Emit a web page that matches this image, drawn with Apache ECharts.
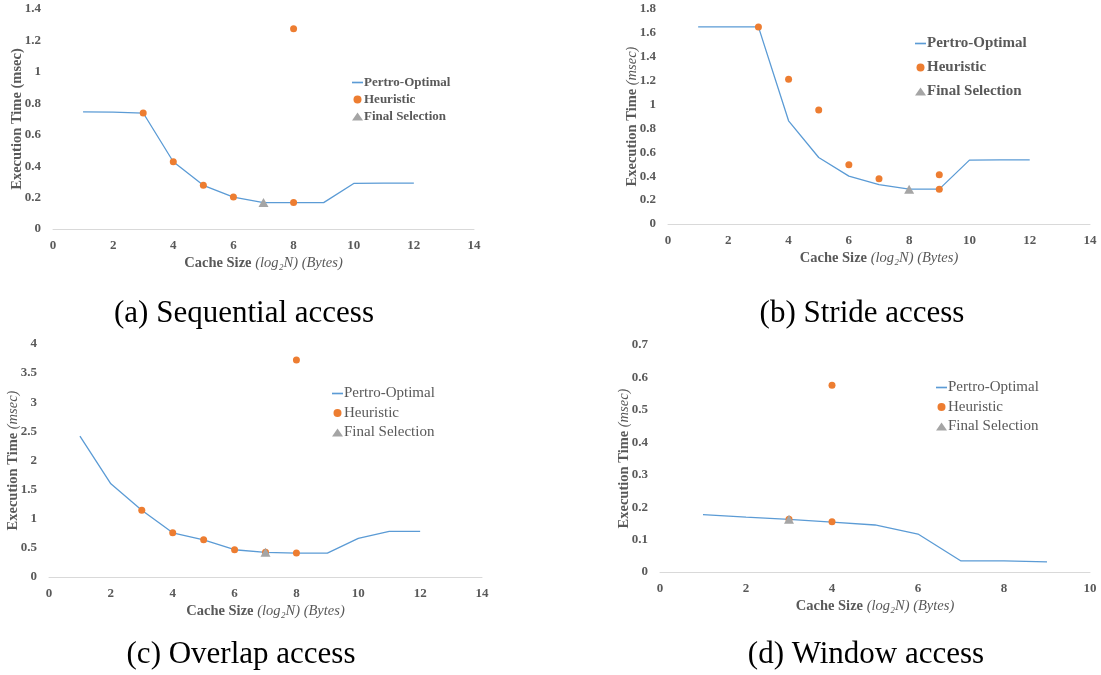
<!DOCTYPE html>
<html>
<head>
<meta charset="utf-8">
<script src="https://cdn.jsdelivr.net/npm/echarts@6/dist/echarts.min.js"></script>
<style>
  html, body { margin: 0; padding: 0; background: #fff; }
  #chart-container { width: 1101px; height: 675px; }
</style>
</head>
<body>
<div id="chart-container"></div>
<script>
// cache sizes (log2 N)
let sizes12 = [1, 2, 3, 4, 5, 6, 7, 8, 9, 10, 11, 12];
let sizes9 = [1, 2, 3, 4, 5, 6, 7, 8, 9];

// (a) sequential
let seqOptimal = [0.745, 0.744, 0.738, 0.428, 0.278, 0.203, 0.168, 0.168, 0.168, 0.29, 0.292, 0.292];
let seqHeurX = [3, 4, 5, 6, 8, 8];
let seqHeurY = [0.738, 0.428, 0.278, 0.203, 1.275, 0.168];
let seqFinalX = [7];
let seqFinalY = [0.168];

// (b) stride
let strOptimal = [1.65, 1.65, 1.65, 0.864, 0.557, 0.401, 0.329, 0.292, 0.292, 0.535, 0.537, 0.537];
let strHeurX = [3, 4, 5, 6, 7, 9, 9];
let strHeurY = [1.65, 1.212, 0.955, 0.496, 0.379, 0.412, 0.29];
let strFinalX = [8];
let strFinalY = [0.29];

// (c) overlap
let ovlOptimal = [2.42, 1.6, 1.147, 0.759, 0.639, 0.468, 0.422, 0.411, 0.411, 0.662, 0.782, 0.782];
let ovlHeurX = [3, 4, 5, 6, 7, 8, 8];
let ovlHeurY = [1.147, 0.759, 0.639, 0.468, 0.425, 3.726, 0.411];
let ovlFinalX = [7];
let ovlFinalY = [0.425];

// (d) window
let winOptimal = [0.177, 0.169, 0.162, 0.154, 0.145, 0.117, 0.034, 0.034, 0.031];
let winHeurX = [3, 4, 4];
let winHeurY = [0.163, 0.155, 0.576];
let winFinalX = [3];
let winFinalY = [0.163];

let captions = ["(a) Sequential access", "(b) Stride access", "(c) Overlap access", "(d) Window access"];

let serif = "Liberation Serif";
let textGray = "#595959";

function zip(xs, ys) {
    return xs.map(function (x, i) { return [x, ys[i]]; });
}

let panels = [
    { grid: { left: 53, top: 9, width: 421, height: 220 }, xMax: 14, yMax: 1.4, yStep: 0.2,
      xs: sizes12, opt: seqOptimal, hx: seqHeurX, hy: seqHeurY, fx: seqFinalX, fy: seqFinalY,
      italicUnit: false, legend: { left: 352, top: 76, font: 13, bold: true, gap: 4 } },
    { grid: { left: 668, top: 9, width: 422, height: 215 }, xMax: 14, yMax: 1.8, yStep: 0.2,
      xs: sizes12, opt: strOptimal, hx: strHeurX, hy: strHeurY, fx: strFinalX, fy: strFinalY,
      italicUnit: true, legend: { left: 915, top: 36, font: 15, bold: true, gap: 9 } },
    { grid: { left: 49, top: 344, width: 433, height: 233 }, xMax: 14, yMax: 4, yStep: 0.5,
      xs: sizes12, opt: ovlOptimal, hx: ovlHeurX, hy: ovlHeurY, fx: ovlFinalX, fy: ovlFinalY,
      italicUnit: true, legend: { left: 332, top: 386, font: 15, bold: false, gap: 4.5 } },
    { grid: { left: 660, top: 345, width: 430, height: 227 }, xMax: 10, yMax: 0.7, yStep: 0.1,
      xs: sizes9, opt: winOptimal, hx: winHeurX, hy: winHeurY, fx: winFinalX, fy: winFinalY,
      italicUnit: true, legend: { left: 936, top: 380, font: 15, bold: false, gap: 4.5 } },
];

let grids = [], xAxes = [], yAxes = [], series = [], legends = [];

panels.forEach(function (p, i) {
    grids.push(p.grid);
    xAxes.push({
        type: "value", gridIndex: i, min: 0, max: p.xMax, interval: 2,
        splitLine: { show: false },
        axisTick: { show: false },
        axisLine: { show: true, lineStyle: { color: "#d9d9d9", width: 1 } },
        axisLabel: { color: textGray, fontFamily: serif, fontWeight: "bold", fontSize: 13, margin: 10 },
        name: "{b|Cache Size }{i|(log₂N) (Bytes)}",
        nameLocation: "middle", nameGap: 27,
        nameTextStyle: {
            rich: {
                b: { fontFamily: serif, fontWeight: "bold", fontSize: 14.5, color: textGray },
                i: { fontFamily: serif, fontStyle: "italic", fontSize: 14.5, color: textGray },
            },
        },
    });
    yAxes.push({
        type: "value", gridIndex: i, min: 0, max: p.yMax, interval: p.yStep,
        splitLine: { show: false },
        axisTick: { show: false },
        axisLine: { show: false },
        axisLabel: { color: textGray, fontFamily: serif, fontWeight: "bold", fontSize: 13, margin: 12 },
        name: p.italicUnit ? "{b|Execution Time }{i|(msec)}" : "{b|Execution Time (msec)}",
        nameLocation: "middle", nameGap: 28, nameRotate: 90, nameMoveOverlap: false,
        nameTextStyle: {
            rich: {
                b: { fontFamily: serif, fontWeight: "bold", fontSize: 14.5, color: textGray },
                i: { fontFamily: serif, fontStyle: "italic", fontSize: 14.5, color: textGray },
            },
        },
    });
    series.push({
        name: "Pertro-Optimal", type: "line", xAxisIndex: i, yAxisIndex: i,
        data: zip(p.xs, p.opt), symbol: "none",
        lineStyle: { color: "#5b9bd5", width: 1.3 }, itemStyle: { color: "#5b9bd5" },
        z: 2,
    });
    series.push({
        name: "Heuristic", type: "scatter", xAxisIndex: i, yAxisIndex: i,
        data: zip(p.hx, p.hy), symbol: "circle", symbolSize: 7,
        itemStyle: { color: "#ed7d31", opacity: 1 }, z: 3,
    });
    series.push({
        name: "Final Selection", type: "scatter", xAxisIndex: i, yAxisIndex: i,
        data: zip(p.fx, p.fy), symbol: "triangle", symbolSize: [10, 9],
        itemStyle: { color: "#a5a5a5", opacity: 1 }, z: 4,
    });
    legends.push({
        orient: "vertical", left: p.legend.left, top: p.legend.top,
        itemWidth: 11, itemHeight: 8, itemGap: p.legend.gap, padding: 0,
        textStyle: {
            fontFamily: serif, fontSize: p.legend.font, color: textGray,
            fontWeight: p.legend.bold ? "bold" : "normal", padding: [0, 0, 0, -4],
        },
        data: [
            { name: "Pertro-Optimal", icon: "path://M0,0H20V3H0Z",
              itemStyle: { color: "#5b9bd5", borderWidth: 0 } },
            { name: "Heuristic", icon: "circle" },
            { name: "Final Selection", icon: "triangle" },
        ],
        selectedMode: false,
    });
});

let captionPos = [[244, 314], [862, 314], [241, 655], [866, 655]];
let graphics = captions.map(function (c, i) {
    return {
        type: "text", x: captionPos[i][0], y: captionPos[i][1],
        style: { text: c, fontFamily: serif, fontSize: 31, fill: "#000", align: "center", verticalAlign: "middle" },
    };
});

let dom = document.getElementById("chart-container");
let myChart = echarts.init(dom, null, { renderer: "canvas" });
myChart.setOption({
    animation: false,
    grid: grids,
    xAxis: xAxes,
    yAxis: yAxes,
    legend: legends,
    series: series,
    graphic: graphics,
});
window.addEventListener("resize", myChart.resize);
</script>
</body>
</html>
